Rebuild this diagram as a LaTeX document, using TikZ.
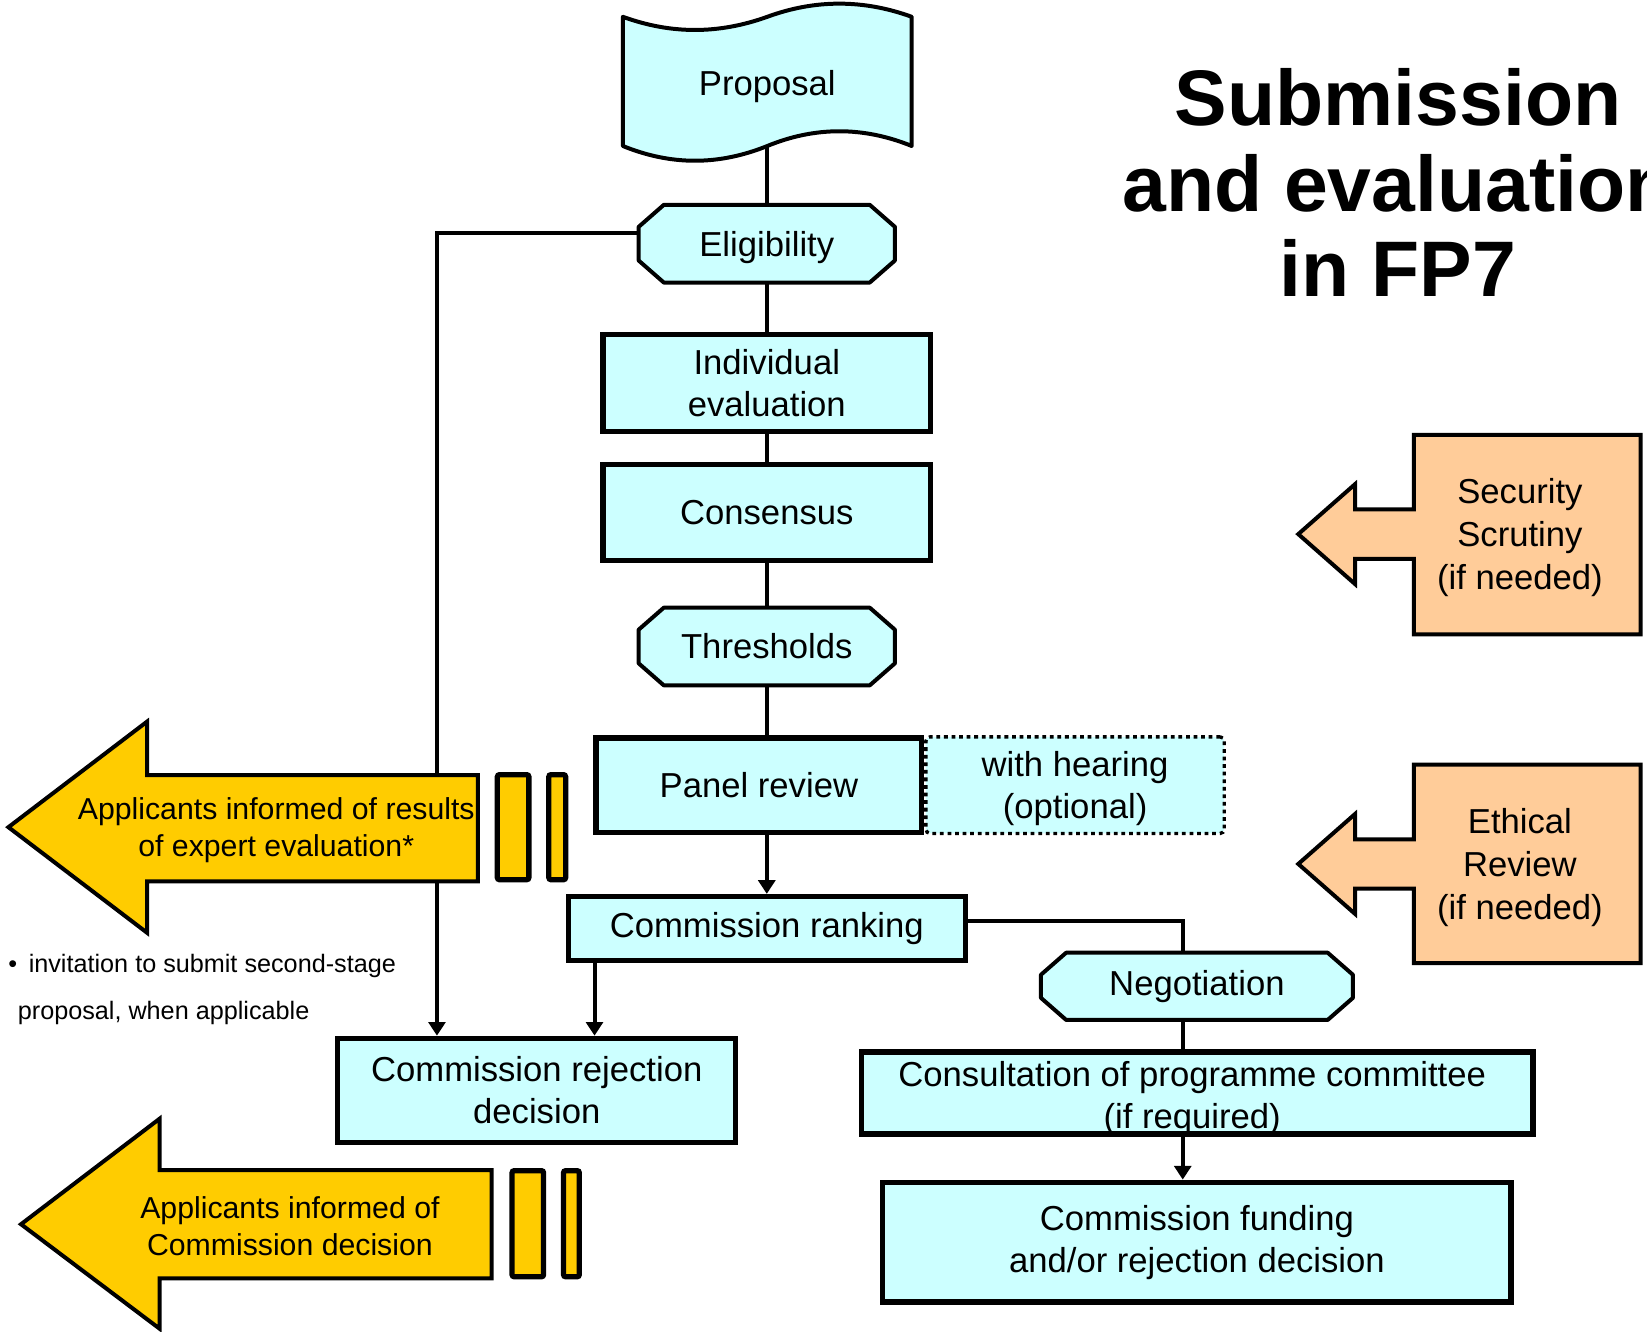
\documentclass[tikz,border=0pt]{standalone}
\usepackage{fontspec}
\setmainfont{Liberation Sans}
\usetikzlibrary{arrows.meta,calc}
\definecolor{cyanL}{HTML}{CCFFFF}
\definecolor{gold}{HTML}{FFCC00}
\definecolor{peach}{HTML}{FFCC99}
\newcommand{\myoct}[4]{%
  \filldraw[fill=cyanL, line width=1.9pt, line join=round]
    ({#1-#3+24},{#2-#4}) -- ({#1+#3-24},{#2-#4}) -- ({#1+#3},{#2-#4+21}) --
    ({#1+#3},{#2+#4-21}) -- ({#1+#3-24},{#2+#4}) -- ({#1-#3+24},{#2+#4}) --
    ({#1-#3},{#2+#4-21}) -- ({#1-#3},{#2-#4+21}) -- cycle;}
\begin{document}
\begin{tikzpicture}[x=0.5pt,y=-0.5pt,
  every node/.style={inner sep=0pt, outer sep=0pt, align=center, font=\fontsize{16.5}{20}\selectfont},
  box/.style={draw, line width=2.5pt, fill=cyanL, outer sep=1.25pt},
  octnode/.style={draw=none, fill=none},
  conn/.style={line width=1.9pt},
  arr/.style={conn, -{Triangle[length=6.5pt,width=8pt]}},
  yarrow/.style={fill=gold, line width=1.9pt, line join=miter},
  ybar/.style={fill=gold, line width=2.5pt, rounded corners=1pt},
  oarrow/.style={fill=peach, line width=1.9pt},
  apptext/.style={font=\fontsize{14.4}{17.5}\selectfont},
  sidetext/.style={font=\fontsize{16.5}{20.5}\selectfont}]
\useasboundingbox (0,0) rectangle (1568,1268);
\clip (0,0) rectangle (1568,1268);
\fill[white] (0,0) rectangle (1568,1268);

% Proposal flag
\filldraw[fill=cyanL, line width=1.9pt, line join=round]
  (593,16) .. controls (639,32.7) and (684,32.7) .. (730.5,16)
  .. controls (776,-0.7) and (822,-0.7) .. (868,16) -- (868,139)
  .. controls (822,120.3) and (776,120.3) .. (730.5,139)
  .. controls (684,157.7) and (639,157.7) .. (593,139) -- cycle;
\node (prop) at (730.5,82) {Proposal};
\coordinate (pb) at (730,139);

% octagons
\myoct{730}{232}{122}{37}
\node[octnode, minimum width=122pt, minimum height=37pt, text depth=-2pt] (elig) at (730,232) {Eligibility};
\myoct{730}{615.5}{122}{37}
\node[octnode, minimum width=122pt, minimum height=37pt] (thresh) at (730,615.5) {Thresholds};
\myoct{1139.5}{939}{148.5}{32}
\node[octnode, minimum width=148.5pt, minimum height=32pt] (neg) at (1139.5,939) {Negotiation};

% boxes
\node[box, minimum width=156pt, minimum height=46pt] (indiv) at (730,364.5) {Individual\\evaluation};
\node[box, minimum width=156pt, minimum height=45.5pt] (cons) at (730,488) {Consensus};
\node[draw, line width=1.6pt, dash pattern=on 1.8pt off 1.8pt, fill=cyanL, rounded corners=2pt,
      minimum width=142pt, minimum height=46pt] (hear) at (1023.5,747.5) {};
\node (heart) at (1023.5,750.5) {with hearing\\(optional)};
\node[box, minimum width=155pt, minimum height=45pt] (panel) at (722.5,747.5) {Panel review};
\node[box, minimum width=189pt, minimum height=30.5pt] (rank) at (730,884) {\raisebox{-1.2pt}{Commission ranking}};
\node[box, minimum width=189.5pt, minimum height=49.5pt] (rej) at (511,1038) {Commission rejection\\decision};
\node[box, minimum width=319.5pt, minimum height=39pt] (consult) at (1140,1040.5) {};
\node (consultt) at (1135,1045.5) {Consultation of programme committee\\(if required)};
\node[box, minimum width=299pt, minimum height=57pt] (fund) at (1139.5,1182.5) {Commission funding\\and/or rejection decision};

% connectors
\draw[conn] (pb) -- (elig.north);
\draw[conn] (elig.south) -- (indiv.north);
\draw[conn] (indiv.south) -- (cons.north);
\draw[conn] (cons.south) -- (thresh.north);
\draw[conn] (thresh.south) -- (thresh.south |- panel.north);
\draw[arr] (rank.north |- panel.south) -- (rank.north);
\coordinate (lx) at (416,221.5);
\draw[arr] (lx -| elig.west) -- (lx) -- (lx |- rej.north);
\coordinate (rx) at (566,950);
\draw[arr] (rx |- rank.south) -- (rx |- rej.north);
\coordinate (nx) at (1126,877);
\draw[conn] (nx -| rank.east) -- (nx) -- (nx |- neg.north);
\draw[conn] (nx |- neg.south) -- (nx |- consult.north);
\draw[arr] (nx |- consult.south) -- (nx |- fund.north);

% yellow arrows
\filldraw[yarrow] (455,738) -- (455,839) -- (140,839) -- (140,888) -- (8,787.5) -- (140,687) -- (140,738) -- cycle;
\node[apptext] (app1) at (263,790) {Applicants informed of results\\of expert evaluation*};
\filldraw[ybar] (473.5,737.5) rectangle (503.5,837.5);
\filldraw[ybar] (522.5,737.5) rectangle (538.5,837.5);

\filldraw[yarrow] (468,1114) -- (468,1217) -- (152,1217) -- (152,1265) -- (20,1165.5) -- (152,1065) -- (152,1114) -- cycle;
\node[apptext] (app2) at (276,1167) {Applicants informed of\\Commission decision};
\filldraw[ybar] (487.5,1114.5) rectangle (517.5,1215.5);
\filldraw[ybar] (536.5,1114.5) rectangle (551.5,1215.5);

% orange arrows
\filldraw[oarrow] (1346,414) -- (1562,414) -- (1562,604) -- (1346,604) -- (1346,532) -- (1290,532) -- (1290,556) -- (1236,508.5) -- (1290,461) -- (1290,485) -- (1346,485) -- cycle;
\node[sidetext] (sec) at (1447,512) {Security\\Scrutiny\\(if needed)};
\filldraw[oarrow] (1346,728) -- (1562,728) -- (1562,917) -- (1346,917) -- (1346,846) -- (1290,846) -- (1290,870) -- (1236,822.5) -- (1290,775) -- (1290,799) -- (1346,799) -- cycle;
\node[sidetext] (eth) at (1447,826) {Ethical\\Review\\(if needed)};

% title
\node[font=\fontsize{37.5}{40.75}\selectfont\bfseries] (title) at (1331,174) {Submission\\and evaluation\\in FP7};

% note
\node[anchor=west, align=left, font=\fontsize{12}{22.5}\selectfont] (note) at (8,942)
  {\textbullet\hspace{5.5pt}invitation to submit second-stage\\\hspace*{4.5pt}proposal, when applicable};
\end{tikzpicture}
\end{document}
